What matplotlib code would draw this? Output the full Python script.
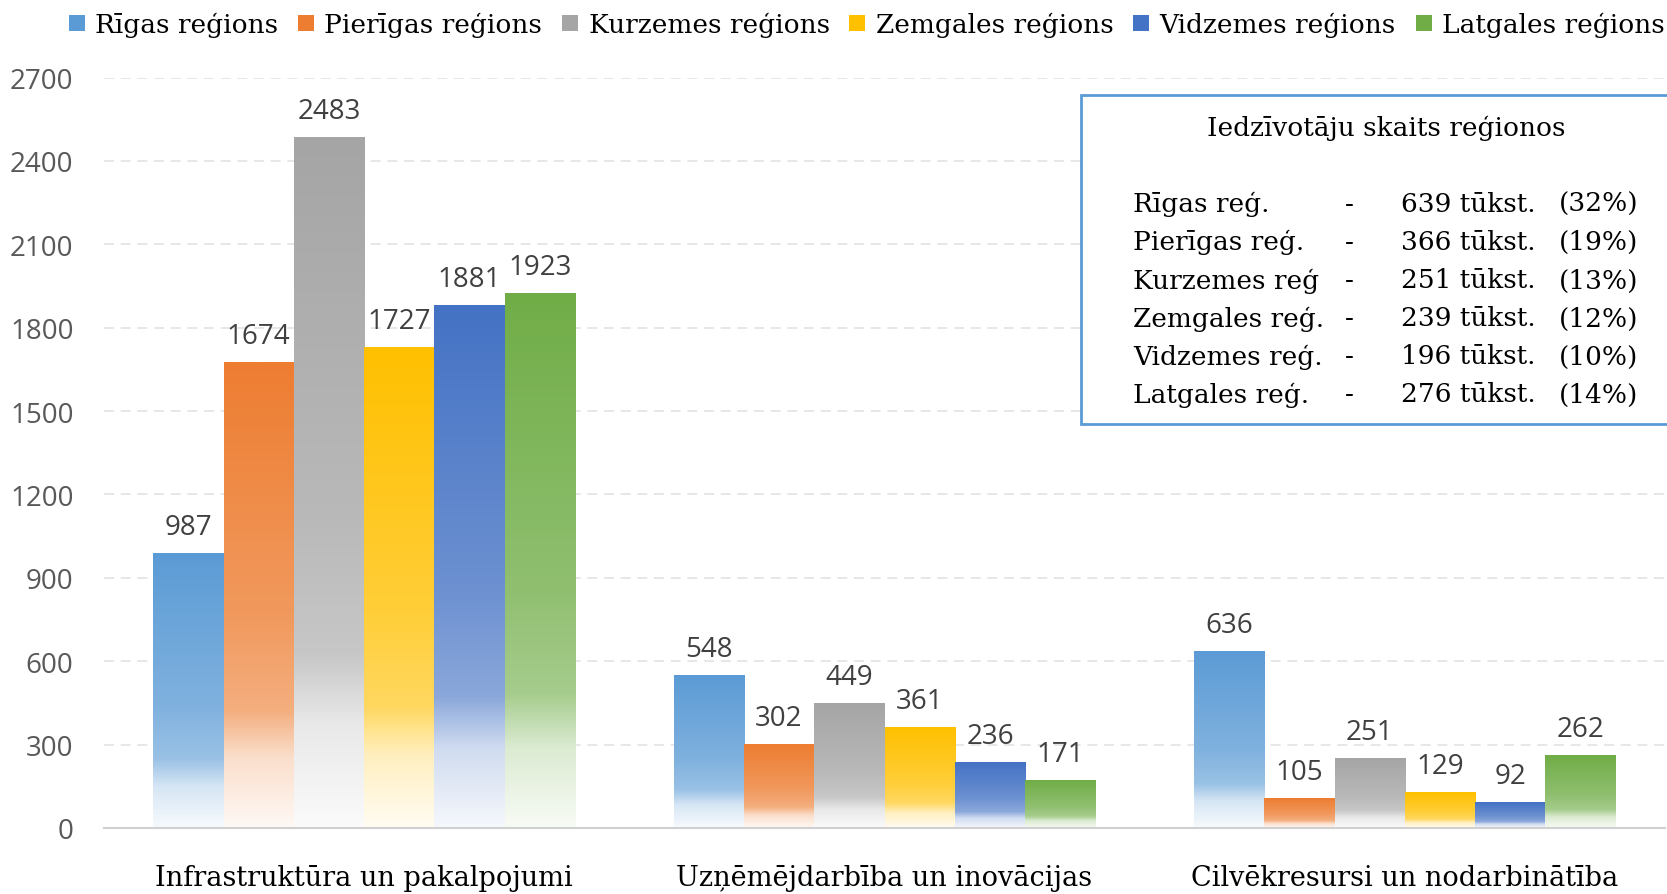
import numpy as np
import matplotlib
matplotlib.use("Agg")
import matplotlib.pyplot as plt
from matplotlib.patches import Rectangle
from matplotlib.colors import to_rgb

categories = ["Infrastruktūra un pakalpojumi", "Uzņēmējdarbība un inovācijas", "Cilvēkresursi un nodarbinātība"]
series_names = ["Rīgas reģions", "Pierīgas reģions", "Kurzemes reģions",
                "Zemgales reģions", "Vidzemes reģions", "Latgales reģions"]
rigas = [987, 548, 636]
pierigas = [1674, 302, 105]
kurzemes = [2483, 449, 251]
zemgales = [1727, 361, 129]
vidzemes = [1881, 236, 92]
latgales = [1923, 171, 262]
values = [rigas, pierigas, kurzemes, zemgales, vidzemes, latgales]
colors = ["#5B9BD5", "#ED7D31", "#A5A5A5", "#FFC000", "#4472C4", "#70AD47"]
yticks = [0, 300, 600, 900, 1200, 1500, 1800, 2100, 2400, 2700]

box_title = "Iedzīvotāju skaits reģionos"
box_names = ["Rīgas reģ.", "Pierīgas reģ.", "Kurzemes reģ", "Zemgales reģ.", "Vidzemes reģ.", "Latgales reģ."]
box_pop = [639, 366, 251, 239, 196, 276]
box_pct = [32, 19, 13, 12, 10, 14]

SERIF = "DejaVu Serif"
SANS = "Open Sans"

fig = plt.figure(figsize=(16.67, 8.95), dpi=100)
ax = fig.add_axes([104/1667, 66/895, 1561/1667, 750.5/895])

n = len(values)
group_w = 0.811
bw = group_w / n
x = np.arange(len(categories))

def gradient(color, steps=256):
    c = np.array(to_rgb(color))
    t = np.linspace(0, 1, steps)
    w = np.interp(t, [0, 0.55, 0.75, 0.85, 1.0], [0.0, 0.22, 0.38, 0.75, 0.95])
    rgb = c[None, :] * (1 - w[:, None]) + w[:, None]
    return rgb[:, None, :]

for i, (vals, col) in enumerate(zip(values, colors)):
    xs = x - group_w / 2 + bw * (i + 0.5)
    bars = ax.bar(xs, vals, width=bw, color="none", edgecolor="none", zorder=2)
    img = gradient(col)
    for b, v in zip(bars, vals):
        x0 = b.get_x()
        ax.imshow(img, extent=[x0, x0 + b.get_width(), 0, v], aspect="auto",
                  origin="upper", zorder=2, interpolation="bilinear")
        ax.annotate(f"{v}", (x0 + b.get_width() / 2, v), xytext=(0, 9),
                    textcoords="offset points", ha="center", va="bottom",
                    fontsize=20, family=SANS, color="#404040")

ax.set_xlim(-0.5, len(categories) - 0.5)
ax.set_ylim(0, 2700)
ax.set_yticks(yticks)
ax.set_yticklabels([str(t) for t in yticks], fontsize=20, family=SANS, color="#595959")
ax.set_xticks(x)
ax.set_xticklabels(categories, fontsize=19.5, family=SERIF, color="black")
ax.tick_params(axis="both", length=0)
ax.tick_params(axis="y", pad=22)
ax.tick_params(axis="x", pad=26)
ax.yaxis.grid(True, color="#E3E3E3", linestyle=(0, (6, 4)), linewidth=1.2, zorder=0)
ax.set_axisbelow(True)
for s in ["top", "right", "left"]:
    ax.spines[s].set_visible(False)
ax.spines["bottom"].set_color("#D0D0D0")
ax.spines["bottom"].set_linewidth(1.5)

handles = [Rectangle((0, 0), 1, 1, facecolor=c, edgecolor="none") for c in colors]
fig.legend(handles, series_names, loc="upper center", bbox_to_anchor=(0.52, 1.012),
           ncol=6, frameon=False, prop={"family": SERIF, "size": 19},
           handlelength=0.6, handleheight=0.6, handletextpad=0.4, columnspacing=0.75)

# text box
fig.patches.append(Rectangle((1081/1667, 1 - 425/895), 0.4, (425-96)/895,
                             transform=fig.transFigure, facecolor="white",
                             edgecolor="#5B9BD5", linewidth=2, zorder=5))
fig.text(1386/1667, 1 - 128/895, box_title, ha="center", va="center",
         fontsize=19, family=SERIF, zorder=6)
ys = [204, 242, 281, 319, 357, 395]
for name, pop, pct, yy in zip(box_names, box_pop, box_pct, ys):
    yf = 1 - yy/895
    fig.text(1133/1667, yf, name, ha="left", va="center", fontsize=19, family=SERIF, zorder=6)
    fig.text(1349/1667, yf, "-", ha="center", va="center", fontsize=19, family=SERIF, zorder=6)
    fig.text(1401/1667, yf, f"{pop} tūkst.", ha="left", va="center", fontsize=19, family=SERIF, zorder=6)
    fig.text(1638/1667, yf, f"({pct}%)", ha="right", va="center", fontsize=19, family=SERIF, zorder=6)

fig.savefig("out.png", dpi=100, facecolor="white")
